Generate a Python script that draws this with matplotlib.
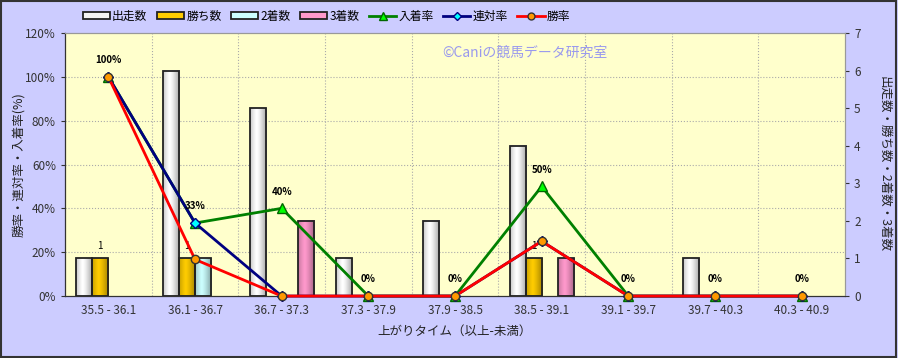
import numpy as np
import matplotlib
matplotlib.use("Agg")
import matplotlib.pyplot as plt
from matplotlib.colors import to_rgb
from matplotlib.patches import Rectangle, Patch
from matplotlib.lines import Line2D

plt.rcParams['font.family'] = ['Noto Sans CJK JP', 'DejaVu Sans']

# data
categories = ['35.5 - 36.1', '36.1 - 36.7', '36.7 - 37.3', '37.3 - 37.9', '37.9 - 38.5',
              '38.5 - 39.1', '39.1 - 39.7', '39.7 - 40.3', '40.3 - 40.9']
starts = [1, 6, 5, 1, 2, 4, 0, 1, 0]
wins = [1, 1, 0, 0, 0, 1, 0, 0, 0]
seconds = [0, 1, 0, 0, 0, 0, 0, 0, 0]
thirds = [0, 0, 2, 0, 0, 1, 0, 0, 0]
place_rate = [100, 33.3, 40, 0, 0, 50, 0, 0, 0]
quinella_rate = [100, 33.3, 0, 0, 0, 25, 0, 0, 0]
win_rate = [100, 16.7, 0, 0, 0, 25, 0, 0, 0]

bar_names = ['出走数', '勝ち数', '2着数', '3着数']
bar_colors = ['#F4F4F4', '#FFCC00', '#CCFFFF', '#FF99CC']

fig = plt.figure(figsize=(8.98, 3.58), dpi=100, facecolor='#CCCCFF')
ax = fig.add_axes([0.0724, 0.173, 0.8686, 0.735])
ax2 = ax.twinx()
# lines (left axis) drawn over bars (right axis)
ax.set_zorder(ax2.get_zorder() + 1)
ax.patch.set_visible(False)
ax2.patch.set_visible(True)
ax2.patch.set_facecolor('#FFFFCC')

x = np.arange(len(categories))
w = 0.185


def shaded_bar(axis, x0, h, color):
    # cylinder-like horizontal gradient inside the bar
    if h <= 0:
        return
    c = np.array(to_rgb(color))
    t = np.linspace(0, 1, 40)
    k = 1 - 0.45 * np.abs(t - 0.4) ** 1.3 * 1.6
    row = np.clip(c[None, :] * k[:, None], 0, 1)
    if color == '#F4F4F4':
        row = np.clip(row * 1.05, 0, 1)
    axis.imshow(row[None, :, :], extent=(x0, x0 + w, 0, h), aspect='auto',
                interpolation='bilinear', zorder=2)
    axis.add_patch(Rectangle((x0, 0), w, h, fill=False, edgecolor='#222222', lw=1.3, zorder=3))


for i, vals in enumerate([starts, wins, seconds, thirds]):
    for xi, v in zip(x, vals):
        shaded_bar(ax2, xi + (i - 2) * w, v, bar_colors[i])

# count labels above the win bars
for xi, v in zip(x, wins):
    if v > 0:
        ax2.annotate(str(v), (xi - 0.5 * w, v), xytext=(0, 9), textcoords='offset points',
                     ha='center', va='center', fontsize=7, zorder=4)

ax2.set_ylim(0, 7)
ax2.set_xlim(-0.5, len(categories) - 0.5)

# rate lines
ax.plot(x, place_rate, color='green', lw=2, marker='^', ms=7, mfc='#00FF00', mec='#006600',
        clip_on=False, zorder=3)
ax.plot(x, quinella_rate, color='#000080', lw=2, marker='D', ms=5, mfc='#00FFFF', mec='#000080',
        clip_on=False, zorder=4)
ax.plot(x, win_rate, color='red', lw=2, marker='o', ms=6, mfc='#FF9900', mec='#333333',
        clip_on=False, zorder=5)

for xi, v in zip(x, place_rate):
    ax.annotate('%d%%' % round(v), (xi, v), xytext=(0, 12), textcoords='offset points',
                ha='center', va='center', fontsize=7, fontweight='bold', zorder=6)

ax.set_ylim(0, 120)
ax.set_xlim(-0.5, len(categories) - 0.5)
ax.set_yticks(range(0, 121, 20))
ax.set_yticklabels(['%d%%' % v for v in range(0, 121, 20)])
ax.set_xticks(x)
ax.set_xticklabels(categories)
ax.tick_params(axis='x', which='both', length=0, pad=6)
ax.tick_params(axis='y', length=3, labelsize=8.5, colors='#333333')
ax.tick_params(axis='x', labelsize=8.5, colors='#333333')
ax2.tick_params(axis='y', length=3, labelsize=8.5, colors='#333333')

ax2.grid(False)
for yv in range(20, 120, 20):
    ax2.axhline(yv * 7 / 120, color='#AAAAAA', ls=':', lw=0.8, zorder=1)
for xv in np.arange(0.5, len(categories) - 1, 1):
    ax2.axvline(xv, color='#AAAAAA', ls=':', lw=0.8, zorder=1)

for s in ['top', 'right']:
    ax.spines[s].set_color('#999999')
    ax2.spines[s].set_color('#999999')
ax.spines['left'].set_color('#333333')
ax.spines['bottom'].set_color('#333333')

ax.set_ylabel('勝率・連対率・入着率(%)', fontsize=9, color='#222222', labelpad=0)
ax2.set_ylabel('出走数・勝ち数・2着数・3着数', fontsize=9, color='#222222', rotation=270, labelpad=22)
ax.set_xlabel('上がりタイム（以上-未満）', fontsize=9, color='#222222', labelpad=5)

ax.text(0.59, 0.925, '©Caniの競馬データ研究室', transform=ax.transAxes, ha='center', va='center',
        fontsize=10, color='#9999EE')

handles = [Patch(facecolor=c, edgecolor='#222222', lw=1.3) for c in bar_colors]
handles += [
    Line2D([], [], color='green', lw=2, marker='^', ms=6, mfc='#00FF00', mec='#006600'),
    Line2D([], [], color='#000080', lw=2, marker='D', ms=4, mfc='#00FFFF', mec='#000080'),
    Line2D([], [], color='red', lw=2, marker='o', ms=5, mfc='#FF9900', mec='#333333'),
]
labels = bar_names + ['入着率', '連対率', '勝率']
fig.legend(handles, labels, loc='center left', bbox_to_anchor=(0.092, 0.955), ncol=7,
           frameon=False, fontsize=8.5, handlelength=2.3, handleheight=0.5,
           columnspacing=0.8, handletextpad=0.2, borderpad=0, borderaxespad=0)

fig.patches.append(Rectangle((0.001, 0.002), 0.997, 0.996, transform=fig.transFigure, fill=False,
                             edgecolor='#333333', lw=1.5))

fig.savefig('out.png', dpi=100, facecolor=fig.get_facecolor())
